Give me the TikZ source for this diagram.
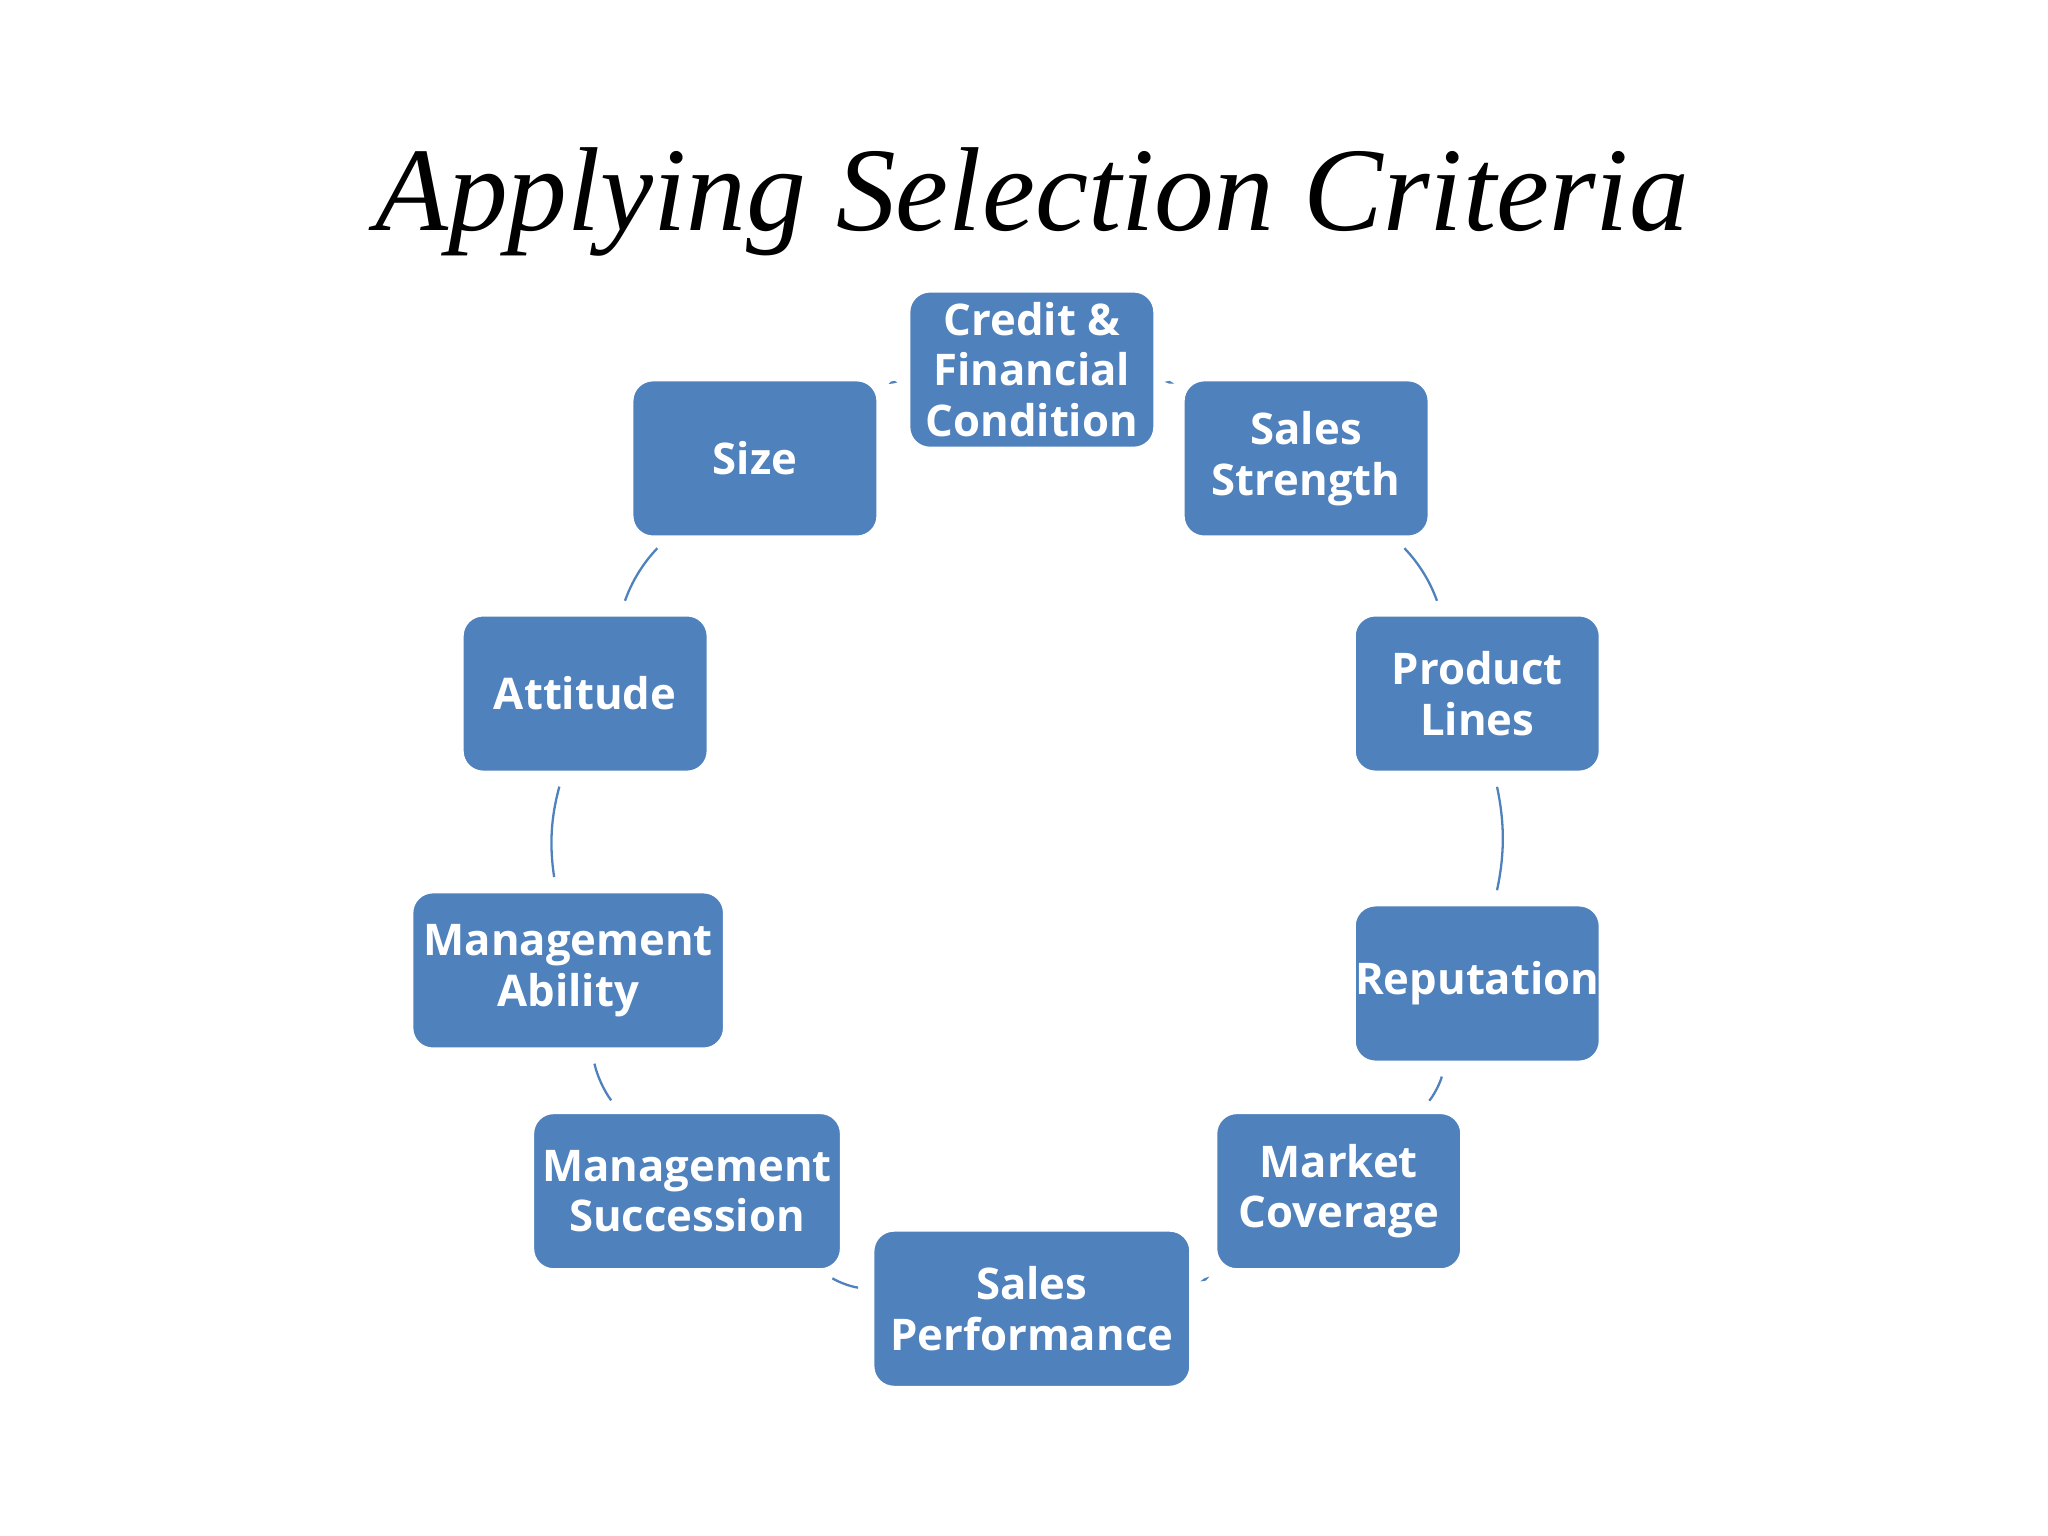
\documentclass[tikz,border=0pt]{standalone}
\usepackage{fontspec}
\setmainfont{Open Sans}
\newfontfamily\titlefont{Liberation Serif}
\definecolor{boxblue}{HTML}{4F81BD}
\begin{document}
\begin{tikzpicture}[x=0.01cm,y=-0.01cm,
  crit/.style={fill=boxblue,draw=white,line width=0.6pt,rounded corners=0.16cm,text=white,font=\fontsize{9.5}{11}\selectfont\bfseries,align=center,minimum height=1.2cm,inner sep=0pt},
  link/.style={draw=boxblue,line width=0.5pt,shorten >=3pt,shorten <=3pt,bend left=12}]
\useasboundingbox (0,0) rectangle (1568,1176);
\node[font=\titlefont\itshape\fontsize{26}{30}\selectfont] (title) at (790,155) {Applying Selection Criteria};
\node[crit,minimum width=1.88cm] (credit) at (790,283) {Credit \&\\Financial\\Condition};
\node[crit,minimum width=1.88cm] (size) at (578,351) {Size};
\node[crit,minimum width=1.88cm] (strength) at (1000,351) {Sales\\Strength};
\node[crit,minimum width=1.88cm] (attitude) at (448,531) {Attitude};
\node[crit,minimum width=1.88cm] (product) at (1131,531) {Product\\Lines};
\node[crit,minimum width=2.39cm] (ability) at (435,743) {Management\\Ability};
\node[crit,minimum width=1.88cm] (reputation) at (1131,753) {Reputation};
\node[crit,minimum width=2.36cm] (succession) at (526,912) {Management\\Succession};
\node[crit,minimum width=1.88cm] (coverage) at (1025,912) {Market\\Coverage};
\node[crit,minimum width=2.43cm] (performance) at (790,1002) {Sales\\Performance};
\draw[link] (credit) to (strength);
\draw[link] (strength) to (product);
\draw[link] (product) to (reputation);
\draw[link] (reputation) to (coverage);
\draw[link] (coverage) to (performance);
\draw[link] (performance) to (succession);
\draw[link] (succession) to (ability);
\draw[link] (ability) to (attitude);
\draw[link] (attitude) to (size);
\draw[link] (size) to (credit);
\end{tikzpicture}
\end{document}
